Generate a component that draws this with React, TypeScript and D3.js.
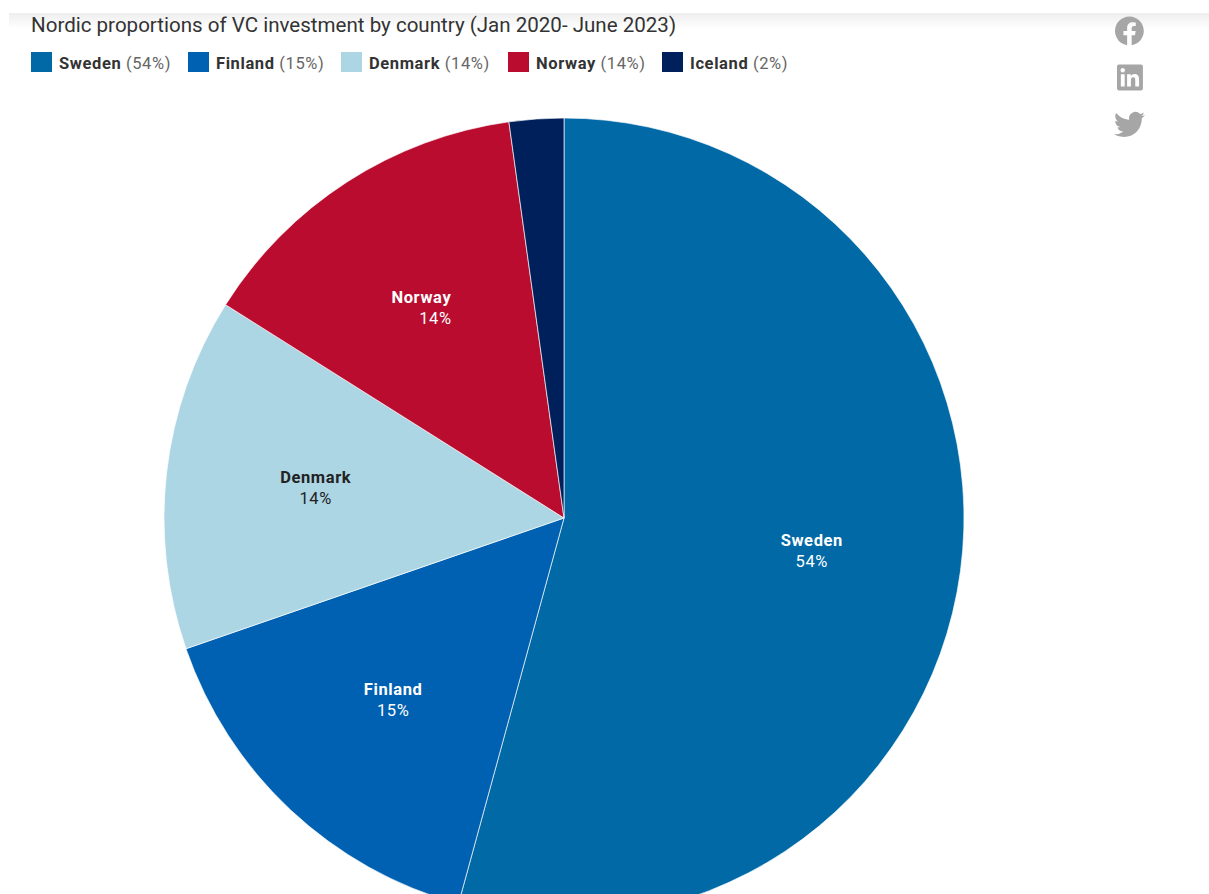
import React from "react";
import * as d3 from "d3";

// VC investment share by Nordic country, Jan 2020 - June 2023
const countries = ["Sweden", "Finland", "Denmark", "Norway", "Iceland"];
const shares = [54.25, 15.45, 14.25, 13.85, 2.2];

const palette = ["#0069a6", "#0060b1", "#add6e5", "#b90c2e", "#00205c"];
const labelInk = ["#ffffff", "#ffffff", "#222222", "#ffffff", "#ffffff"];
const legendLeft = [31, 188, 341, 508, 662];
// Nudges for the in-slice label lines: [name dx, percent dx, both dy]
const labelNudge = [[0, 0, 1], [0, 0, 0], [0, 0, 0], [-7, 7, 1.5], [0, 0, 0]];

const titleText = "Nordic proportions of VC investment by country (Jan 2020- June 2023)";

const facebookPath =
  "M24 12.073c0-6.627-5.373-12-12-12s-12 5.373-12 12c0 5.99 4.388 10.954 10.125 11.854v-8.385H7.078v-3.47h3.047V9.43c0-3.007 1.792-4.669 4.533-4.669 1.312 0 2.686.235 2.686.235v2.953H15.83c-1.491 0-1.956.925-1.956 1.874v2.25h3.328l-.532 3.47h-2.796v8.385C19.612 23.027 24 18.062 24 12.073z";
const linkedinPath =
  "M20.447 20.452h-3.554v-5.569c0-1.328-.027-3.037-1.852-3.037-1.853 0-2.136 1.445-2.136 2.939v5.667H9.351V9h3.414v1.561h.046c.477-.9 1.637-1.85 3.37-1.85 3.601 0 4.267 2.37 4.267 5.455v6.286zM5.337 7.433c-1.144 0-2.063-.926-2.063-2.065 0-1.138.92-2.063 2.063-2.063 1.14 0 2.064.925 2.064 2.063 0 1.139-.925 2.065-2.064 2.065zm1.782 13.019H3.555V9h3.564v11.452zM22.225 0H1.771C.792 0 0 .774 0 1.729v20.542C0 23.227.792 24 1.771 24h20.451C23.2 24 24 23.227 24 22.271V1.729C24 .774 23.2 0 22.222 0h.003z";
const twitterPath =
  "M23.953 4.57a10 10 0 01-2.825.775 4.958 4.958 0 002.163-2.723c-.951.555-2.005.959-3.127 1.184a4.92 4.92 0 00-8.384 4.482C7.69 8.095 4.067 6.13 1.64 3.162a4.822 4.822 0 00-.666 2.475c0 1.71.87 3.213 2.188 4.096a4.904 4.904 0 01-2.228-.616v.06a4.923 4.923 0 003.946 4.827 4.996 4.996 0 01-2.212.085 4.936 4.936 0 004.604 3.417 9.867 9.867 0 01-6.102 2.105c-.39 0-.779-.023-1.17-.067a13.995 13.995 0 007.557 2.209c9.053 0 13.998-7.496 13.998-13.985 0-.21 0-.42-.015-.63A9.935 9.935 0 0024 4.59z";

const WIDTH = 1209;
const HEIGHT = 894;
const CX = 564;
const CY = 518;
const RADIUS = 400;
const FONT = "Roboto, sans-serif";
const LABEL_SIZE = 16.5;
const LABEL_TRACKING = 0.6;

export default function App() {
  const pct = d3.format(".0f");
  const rows = countries.map((name, i) => ({ name, value: shares[i], i }));
  const slices = d3
    .pie<(typeof rows)[number]>()
    .value((d) => d.value)
    .sort(null)(rows);
  const arc = d3
    .arc<d3.PieArcDatum<(typeof rows)[number]>>()
    .innerRadius(0)
    .outerRadius(RADIUS);
  const labelArc = d3
    .arc<d3.PieArcDatum<(typeof rows)[number]>>()
    .innerRadius(250)
    .outerRadius(250);

  return (
    <svg
      width={WIDTH}
      height={HEIGHT}
      style={{ position: "absolute", left: 0, top: 0, display: "block", background: "#fff" }}
    >
      <defs>
        <linearGradient id="topShade" x1="0" y1="0" x2="0" y2="1">
          <stop offset="0" stopColor="#eeeeee" />
          <stop offset="1" stopColor="#ffffff" />
        </linearGradient>
      </defs>
      <rect x={9} y={13} width={WIDTH - 9} height={16} fill="url(#topShade)" />

      <text x={31} y={32} fontFamily={FONT} fontSize={20.55} fill="#333333">
        {titleText}
      </text>

      {rows.map((d) => (
        <g key={d.name}>
          <rect x={legendLeft[d.i]} y={52} width={21} height={20} fill={palette[d.i]} />
          <text
            x={legendLeft[d.i] + 28}
            y={69}
            fontFamily={FONT}
            fontSize={LABEL_SIZE}
            letterSpacing={LABEL_TRACKING}
          >
            <tspan fontWeight={700} fill="#333333">
              {d.name}
            </tspan>
            <tspan fill="#666666"> ({pct(d.value)}%)</tspan>
          </text>
        </g>
      ))}

      <g transform={`translate(${CX},${CY})`}>
        {slices.map((s) => (
          <path
            key={s.data.name}
            d={arc(s) ?? ""}
            fill={palette[s.data.i]}
            stroke="#ffffff"
            strokeOpacity={0.65}
            strokeWidth={1}
          />
        ))}
        {slices
          .filter((s) => s.data.value >= 5)
          .map((s) => {
            const [x, y] = labelArc.centroid(s);
            const nudge = labelNudge[s.data.i];
            const ink = labelInk[s.data.i];
            return (
              <g
                key={s.data.name}
                fontFamily={FONT}
                fontSize={LABEL_SIZE}
                letterSpacing={LABEL_TRACKING}
                textAnchor="middle"
                fill={ink}
              >
                <text x={x + nudge[0]} y={y - 6 + nudge[2]} fontWeight={700}>
                  {s.data.name}
                </text>
                <text x={x + nudge[1]} y={y + 15 + nudge[2]}>
                  {pct(s.data.value)}%
                </text>
              </g>
            );
          })}
      </g>

      <g fill="#a6a6a6">
        <path transform="translate(1115,16.5) scale(1.2)" d={facebookPath} />
        <path transform="translate(1117,64.5) scale(1.08)" d={linkedinPath} />
        <path transform="translate(1114,109) scale(1.29)" d={twitterPath} />
      </g>
    </svg>
  );
}
